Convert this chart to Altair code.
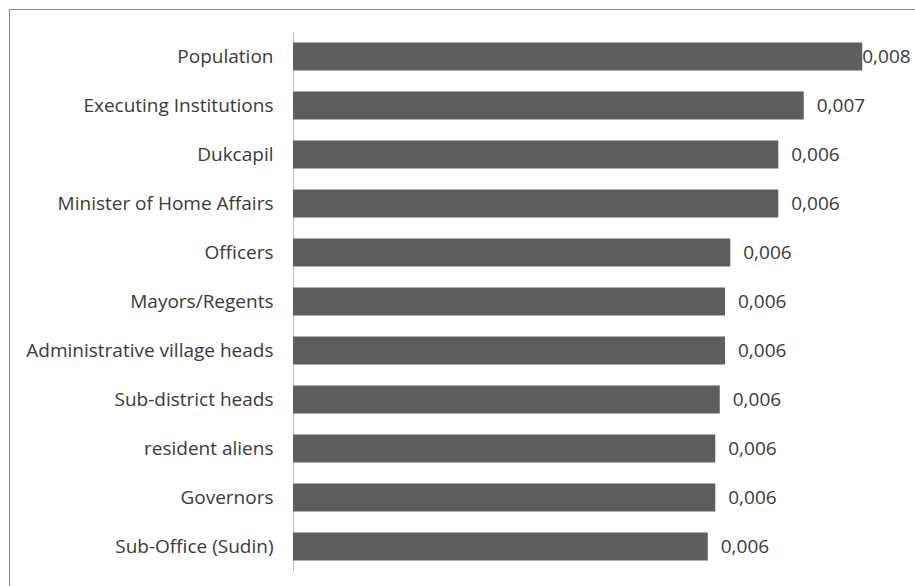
import altair as alt
import pandas as pd

categories = [
    "Population", "Executing Institutions", "Dukcapil", "Minister of Home Affairs",
    "Officers", "Mayors/Regents", "Administrative village heads", "Sub-district heads",
    "resident aliens", "Governors", "Sub-Office (Sudin)",
]
values = [0.00759, 0.00681, 0.00647, 0.00647, 0.00583, 0.00576, 0.00576, 0.00569, 0.00563, 0.00563, 0.00553]

df = pd.DataFrame({"category": categories, "value": values})

FONT = "Open Sans"
FS = 19
TXT = "#3a3a3a"

ysc = alt.Scale(domain=categories, paddingInner=0.43, paddingOuter=0.215)
xsc = alt.Scale(domain=[0, 0.008], nice=False)

base = alt.Chart(df)

bars = base.mark_bar(color="#5e5e5e").encode(
    y=alt.Y("category:N", scale=ysc, sort=categories,
            axis=alt.Axis(title=None, ticks=False, labelPadding=20, labelFont=FONT,
                          labelFontSize=FS, labelColor=TXT, domainColor="#bfbfbf",
                          labelLimit=400)),
    x=alt.X("value:Q", scale=xsc, axis=None),
)

labels_base = base.transform_joinaggregate(mx="max(value)").transform_calculate(
    lab="replace(format(datum.value, '.3f'), '.', ',')"
)

labels = labels_base.transform_filter("datum.value < datum.mx").mark_text(
    align="left", baseline="middle", dx=13, font=FONT, fontSize=FS, color=TXT
).encode(y=alt.Y("category:N", scale=ysc, sort=categories), x=alt.X("value:Q", scale=xsc), text="lab:N")

labels_max = labels_base.transform_filter("datum.value == datum.mx").mark_text(
    align="left", baseline="middle", dx=0, font=FONT, fontSize=FS, color=TXT
).encode(y=alt.Y("category:N", scale=ysc, sort=categories), x=alt.X("value:Q", scale=xsc), text="lab:N")

frame_left = alt.Chart(df).mark_rule(color="#898989", strokeWidth=1).encode(
    x=alt.value(-283.5), y=alt.value(-22.5), y2=alt.value(600)
)
frame_top = alt.Chart(df).mark_rule(color="#898989", strokeWidth=1).encode(
    x=alt.value(-283.5), x2=alt.value(700), y=alt.value(-22.5)
)

chart = alt.layer(bars, labels, labels_max, frame_left, frame_top).properties(
    width=600, height=539,
    autosize=alt.AutoSizeParams(type="none"),
    padding={"left": 293, "top": 32, "right": 22, "bottom": 15},
).configure(background="white").configure_view(strokeWidth=0, stroke="transparent")

chart.save("out.html", embed_options={"renderer": "svg", "actions": False})
